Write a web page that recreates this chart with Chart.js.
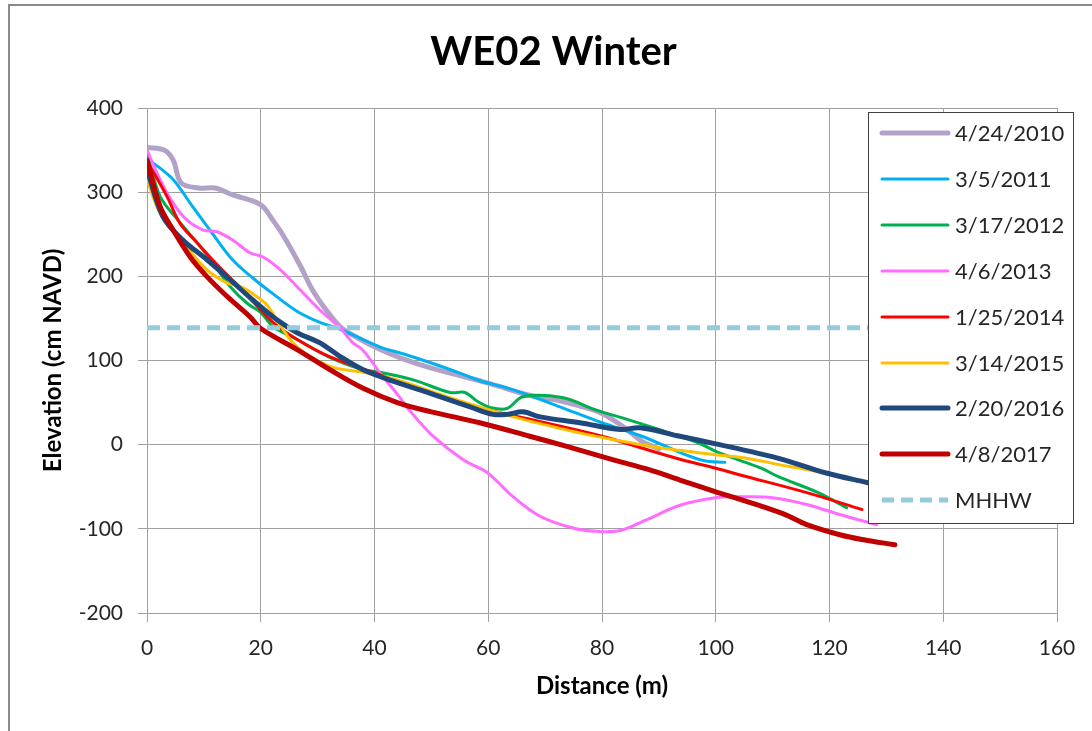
<!DOCTYPE html>
<html>
<head>
<meta charset="utf-8">
<script src="https://cdn.jsdelivr.net/npm/chart.js@4.4.1/dist/chart.umd.min.js"></script>
<style>
  html, body { margin: 0; padding: 0; background: #ffffff; }
  #wrap { width: 1092px; height: 731px; position: relative; }
</style>
</head>
<body>
<div id="wrap"><canvas id="c" width="1092" height="731"></canvas></div>
<script>
// ---- Data ----
const seriesLabels = ['4/24/2010', '3/5/2011', '3/17/2012', '4/6/2013', '1/25/2014', '3/14/2015', '2/20/2016', '4/8/2017', 'MHHW'];

const x2010 = [0, 3, 4.6, 6, 9, 12, 15, 20, 22, 24, 27, 29, 31.5, 34, 37, 41, 45, 50, 55, 59, 63, 67, 72, 76, 80, 84, 87, 90];
const y2010 = [353, 350, 338, 311, 305, 305, 297, 285, 268, 248, 212, 185, 160, 140, 127, 113, 102, 91, 82, 75, 67, 59, 53, 46, 37, 20, 4, -5];

const x2011 = [0, 2, 4.6, 8, 11.6, 15, 18.6, 22, 26.5, 30.5, 34, 41, 45, 50, 55, 58.5, 63, 67, 72.6, 80, 87, 94, 98, 101.6];
const y2011 = [340, 330, 315, 283, 250, 220, 198, 180, 158, 145, 137, 116, 108, 97, 85, 76, 68, 59, 45, 26, 10, -10, -19, -21];

const x2012 = [0, 2.3, 5.8, 8.8, 11.6, 14.6, 17.6, 20, 22.2, 26.4, 32, 38, 41, 46.8, 53.3, 55.9, 58.2, 60.5, 63.3, 66.1, 73, 79, 84, 90, 97, 100, 104, 108, 111, 118, 123];
const y2012 = [347, 295, 264, 240, 216, 188, 168, 157, 140, 125, 104, 89, 86, 77, 62, 62, 51, 44, 43, 57, 56, 41, 31, 18, 2, -8, -18, -28, -38, -57, -75];

const x2013 = [0, 2.3, 4.6, 7, 9.9, 12.3, 15.1, 18.1, 20.4, 23.4, 26.9, 30.4, 33.9, 36.2, 38, 41, 44, 46, 50, 55.6, 59.8, 64.4, 69.1, 74.9, 79.1, 83.2, 87.9, 93.7, 100, 104.3, 110, 116, 121.8, 128.3];
const y2013 = [350, 315, 287, 267, 255, 253, 243, 228, 223, 208, 184, 160, 139, 121, 112, 85, 60, 42, 12, -18, -33, -62, -85, -99, -103, -102, -89, -72, -63, -62, -63, -71, -83, -95];

const x2014 = [0, 3.5, 5.8, 8.8, 12.3, 15.8, 18.6, 22.2, 26.4, 32, 41, 47, 58.5, 70, 80, 88, 94, 100, 104.3, 116, 125.7];
const y2014 = [337, 295, 263, 240, 214, 190, 170, 145, 125, 105, 83, 69, 44, 26, 10, -6, -18, -28, -36, -57, -77];

const x2015 = [0, 2.3, 6.3, 10.5, 14.1, 16.4, 19.3, 21.1, 23.4, 26.4, 32.2, 38, 44, 52.7, 64.4, 76, 82, 88.4, 94, 100, 104.3, 113, 118.9];
const y2015 = [315, 275, 240, 208, 192, 188, 176, 166, 142, 116, 93, 86, 77, 57, 33, 14, 6, -2, -7, -12, -15, -26, -33];

const x2016 = [0, 2.8, 6.3, 10.5, 14.6, 18.6, 22.9, 26.4, 30.4, 33.9, 38, 43.9, 49.8, 56.8, 60.8, 63.3, 66.1, 69.1, 76.1, 83.2, 86.7, 93.7, 100, 106, 112, 119.6, 126.6, 131];
const y2016 = [327, 271, 243, 220, 196, 172, 148, 133, 121, 105, 89, 74, 61, 45, 36, 36, 39, 33, 26, 18, 20, 10, 1, -8, -18, -34, -45, -52];

const x2017 = [0, 2.3, 4.6, 7.6, 10.5, 14.1, 18.1, 20, 26.4, 32.2, 38, 44, 50, 58.5, 67.3, 73.8, 82, 88.4, 93.7, 100, 104.3, 111.8, 116, 121.8, 126, 131.5];
const y2017 = [338, 283, 255, 223, 200, 176, 152, 138, 113, 89, 67, 50, 39, 26, 10, -2, -18, -30, -42, -56, -65, -82, -95, -107, -113, -119];

const xMHHW = [0, 160];
const yMHHW = [139, 139];

const xTicks = [0, 20, 40, 60, 80, 100, 120, 140, 160];
const yTicks = [-200, -100, 0, 100, 200, 300, 400];

// ---- Styles ----
const seriesColors = ['#b3a2c7', '#00b0f0', '#00b050', '#ff6cff', '#ff0000', '#ffc000', '#1f497d', '#c00000', '#93cddd'];
const seriesWidths = [5, 3, 3, 3, 3, 3, 5, 5, 5];

const xs = [x2010, x2011, x2012, x2013, x2014, x2015, x2016, x2017, xMHHW];
const ys = [y2010, y2011, y2012, y2013, y2014, y2015, y2016, y2017, yMHHW];

const FONT = 'Lato, "Open Sans", "DejaVu Sans", sans-serif';

const datasets = seriesLabels.map((label, i) => ({
  label: label,
  data: xs[i].map((x, k) => ({ x: x, y: ys[i][k] })),
  borderColor: seriesColors[i],
  backgroundColor: seriesColors[i],
  borderWidth: seriesWidths[i],
  borderDash: label === 'MHHW' ? [13, 7] : [],
  borderCapStyle: label === 'MHHW' ? 'butt' : 'round',
  borderJoinStyle: 'round',
  pointRadius: 0,
  pointHoverRadius: 0,
  tension: label === 'MHHW' ? 0 : 0.35,
  fill: false,
  order: 20 - i
}));

const framePlugin = {
  id: 'frame',
  beforeDraw(chart) {
    const ctx = chart.ctx;
    ctx.save();
    ctx.fillStyle = '#ffffff';
    ctx.fillRect(0, 0, chart.width, chart.height);
    ctx.strokeStyle = '#8a8a8a';
    ctx.lineWidth = 2;
    ctx.beginPath();
    ctx.moveTo(9, chart.height);
    ctx.lineTo(9, 5);
    ctx.lineTo(chart.width, 5);
    ctx.stroke();
    ctx.restore();
  }
};

// shift the title block so it is centred like the reference (centre x ~553)
const titleShiftPlugin = {
  id: 'titleShift',
  afterLayout(chart) {
    const t = chart.titleBlock;
    if (t) { t.left += 21; t.right += 21; }
  }
};

const boxLegendPlugin = {
  id: 'boxLegend',
  afterDatasetsDraw(chart) {
    const ctx = chart.ctx;
    const bx = 868, by = 112, bw = 205, bh = 411;
    ctx.save();
    ctx.fillStyle = '#ffffff';
    ctx.fillRect(bx, by, bw, bh);
    ctx.strokeStyle = '#404040';
    ctx.lineWidth = 1;
    ctx.strokeRect(bx + 0.5, by + 0.5, bw, bh);
    const rowTop = 133, rowStep = 45.9;
    chart.data.datasets.forEach((ds, i) => {
      const y = Math.round(rowTop + i * rowStep);
      ctx.beginPath();
      ctx.strokeStyle = ds.borderColor;
      ctx.lineWidth = ds.borderWidth;
      ctx.lineCap = ds.borderDash.length ? 'butt' : 'round';
      ctx.setLineDash(ds.borderDash.length ? [12, 7] : []);
      ctx.moveTo(882, y);
      ctx.lineTo(948, y);
      ctx.stroke();
      ctx.setLineDash([]);
      ctx.fillStyle = '#262626';
      ctx.font = '22px ' + FONT;
      ctx.textBaseline = 'middle';
      ctx.textAlign = 'left';
      ctx.fillText(ds.label, 955, y + 1);
    });
    ctx.restore();
  }
};

const gridColor = '#a0a0a0';

new Chart(document.getElementById('c'), {
  type: 'line',
  data: { datasets: datasets },
  options: {
    responsive: false,
    animation: false,
    events: [],
    layout: { padding: { left: 8, right: 35, top: 28, bottom: 0 } },
    plugins: {
      legend: { display: false },
      tooltip: { enabled: false },
      title: {
        display: true,
        text: 'WE02 Winter',
        color: '#000000',
        font: { family: FONT, size: 40, weight: 'bold' },
        padding: { top: 0, bottom: 32 }
      }
    },
    scales: {
      x: {
        type: 'linear',
        min: 0,
        max: 160,
        afterBuildTicks(scale) { scale.ticks = xTicks.map(v => ({ value: v })); },
        afterFit(scale) { scale.height = 118; },
        grid: { color: gridColor, lineWidth: 1, tickLength: 9, drawTicks: true },
        border: { color: gridColor, width: 1 },
        ticks: { color: '#262626', font: { family: FONT, size: 21 }, padding: 14, maxRotation: 0 },
        title: {
          display: true,
          text: 'Distance (m)',
          color: '#000000',
          font: { family: FONT, size: 24, weight: 'bold' },
          padding: { top: 0, bottom: 30 }
        }
      },
      y: {
        type: 'linear',
        min: -200,
        max: 400,
        afterBuildTicks(scale) { scale.ticks = yTicks.map(v => ({ value: v })); },
        afterFit(scale) { scale.width = 139; },
        grid: { color: gridColor, lineWidth: 1, tickLength: 9, drawTicks: true },
        border: { color: gridColor, width: 1 },
        ticks: { color: '#262626', font: { family: FONT, size: 21 }, padding: 15 },
        title: {
          display: true,
          text: 'Elevation (cm NAVD)',
          color: '#000000',
          font: { family: FONT, size: 24, weight: 'bold' },
          padding: { top: 31, bottom: 0 }
        }
      }
    }
  },
  plugins: [framePlugin, titleShiftPlugin, boxLegendPlugin]
});
</script>
</body>
</html>
